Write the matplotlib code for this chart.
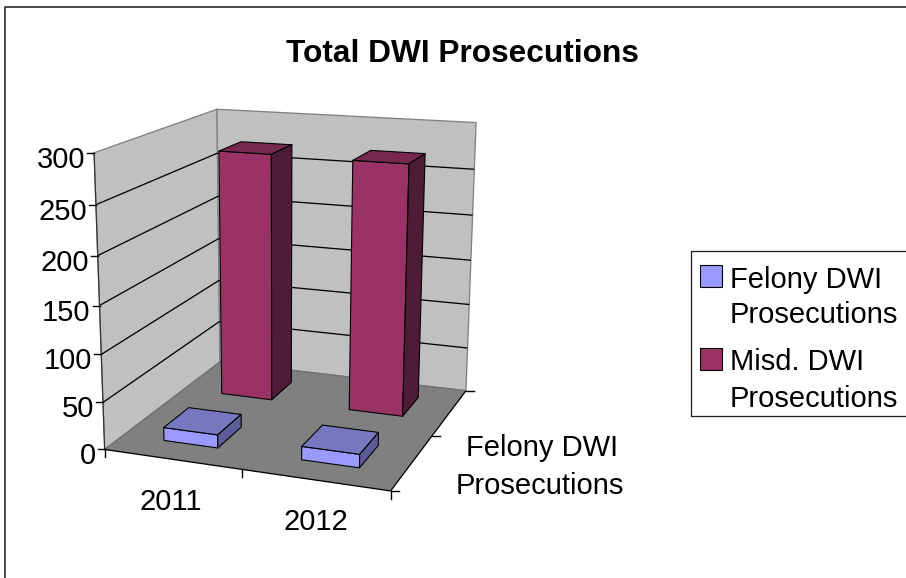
import numpy as np
import matplotlib
matplotlib.use("Agg")
import matplotlib.pyplot as plt
from matplotlib.patches import Polygon, Rectangle

plt.rcParams['font.family'] = ['Liberation Sans', 'DejaVu Sans']

# ---- data ----
title = "Total DWI Prosecutions"
categories = ["2011", "2012"]
series_names = ["Felony DWI\nProsecutions", "Misd. DWI\nProsecutions"]
felony = [14, 14]
misd = [272, 271]
z_ticks = [0, 50, 100, 150, 200, 250, 300]

# ---- camera: 3x4 projection of (category, depth, value/zmax) to figure pixels ----
CAM = np.array([[1.28948674e+02, 1.55863921e+02, -1.59848819e+01, 1.04657024e+02],
                [3.09766100e+00, -2.08989822e+01, -3.05457137e+02, 4.49492155e+02],
                [-3.58906102e-02, 1.84396815e-01, -5.73419691e-02, 1.0]])
ZMAX = z_ticks[-1]


def pr(x, y, z):
    h = CAM @ np.array([x, y, z / ZMAX, 1.0])
    return h[:2] / h[2]


fig = plt.figure(figsize=(9.06, 5.78), dpi=100)
ax = fig.add_axes([0, 0, 1, 1])
ax.set_xlim(0, 906)
ax.set_ylim(578, 0)
ax.axis("off")

PX = 0.72
WALL, FLOOR = "#C0C0C0", "#808080"


def face(pts, color, ec="black", lw=1.1, z=2):
    ax.add_patch(Polygon([pr(*p) for p in pts], closed=True, fc=color, ec=ec,
                         lw=lw * PX, joinstyle="round", zorder=z))


def seg(a, b, color="black", lw=1.3, z=3):
    pa, pb = pr(*a), pr(*b)
    ax.plot([pa[0], pb[0]], [pa[1], pb[1]], color=color, lw=lw * PX, zorder=z,
            solid_capstyle="butt")


# chart frame
ax.plot([5, 5, 906], [578, 7, 7], color="#222222", lw=1.6 * PX, zorder=1)

nx = len(categories)
# walls and floor
face([(0, 0, 0), (0, 1, 0), (0, 1, ZMAX), (0, 0, ZMAX)], WALL, ec="#808080", lw=1.3)
face([(0, 1, 0), (nx, 1, 0), (nx, 1, ZMAX), (0, 1, ZMAX)], WALL, ec="#808080", lw=1.3)
for t in z_ticks[1:-1]:
    seg((0, 0, t), (0, 1, t))
    seg((0, 1, t), (nx, 1, t))
face([(0, 0, 0), (nx, 0, 0), (nx, 1, 0), (0, 1, 0)], FLOOR, ec="none", z=2.5)
seg((0, 1, 0), (nx, 1, 0), color="#707070", z=2.6)
seg((0, 0, 0), (0, 1, 0), color="#707070", z=2.6)


def bar(cat, y0, y1, val, front, top, side, z):
    x0, x1 = cat + 0.305, cat + 0.705
    face([(x0, y0, 0), (x1, y0, 0), (x1, y0, val), (x0, y0, val)], front, z=z)
    face([(x0, y0, val), (x1, y0, val), (x1, y1, val), (x0, y1, val)], top, z=z)
    face([(x1, y0, 0), (x1, y1, 0), (x1, y1, val), (x1, y0, val)], side, z=z)


for i, v in enumerate(misd):
    bar(i, 0.655, 0.865, v, "#993366", "#77284F", "#4F1C38", 4 + i * 0.1)
for i, v in enumerate(felony):
    bar(i, 0.145, 0.355, v, "#9999FF", "#7878C0", "#5C5C99", 5 + i * 0.1)

# axes lines and ticks
seg((0, 0, 0), (0, 0, ZMAX), color="#333333", lw=1.2, z=6)
seg((0, 0, 0), (nx, 0, 0), z=6)
seg((nx, 0, 0), (nx, 1, 0), z=6)
for t in z_ticks:
    p = pr(0, 0, t)
    ax.plot([p[0] - 7, p[0]], [p[1], p[1]], color="black", lw=1.4 * PX, zorder=6)
    ax.text(p[0] - 9, p[1] + 4, str(t), ha="right", va="center_baseline", fontsize=21)
for i in range(nx + 1):
    p = pr(i, 0, 0)
    ax.plot([p[0], p[0]], [p[1], p[1] + 8], color="black", lw=1.4 * PX, zorder=6)
for d in (0, 0.5, 1):
    p = pr(nx, d, 0)
    ax.plot([p[0], p[0] + 8], [p[1], p[1]], color="black", lw=1.4 * PX, zorder=6)

# category and depth labels
ax.text(170.5, 510.5, categories[0], ha="center", va="baseline", fontsize=21)
ax.text(316, 530, categories[1], ha="center", va="baseline", fontsize=21)
ax.text(542, 456.5, series_names[0].split("\n")[0], ha="center", va="baseline", fontsize=21)
ax.text(540, 494, series_names[0].split("\n")[1], ha="center", va="baseline", fontsize=21)

# title
ax.text(462, 62, title, ha="center", va="baseline", fontsize=22.8, fontweight="bold")

# legend
ax.plot([906, 690.5, 690.5, 906], [251, 251, 416, 416], color="#222222", lw=1.3 * PX, zorder=6)
legend_y = [(265, 288, 323), (348, 370, 407)]
for (top_y, b1, b2), name, col in zip(legend_y, series_names, ["#9999FF", "#993366"]):
    ax.add_patch(Rectangle((700, top_y), 21.5, 21.5, fc=col, ec="black", lw=1.1 * PX, zorder=6))
    l1, l2 = name.split("\n")
    ax.text(729.5, b1, l1, ha="left", va="baseline", fontsize=21)
    ax.text(729.5, b2, l2, ha="left", va="baseline", fontsize=21)

fig.savefig("out.png", dpi=100, facecolor="white")
